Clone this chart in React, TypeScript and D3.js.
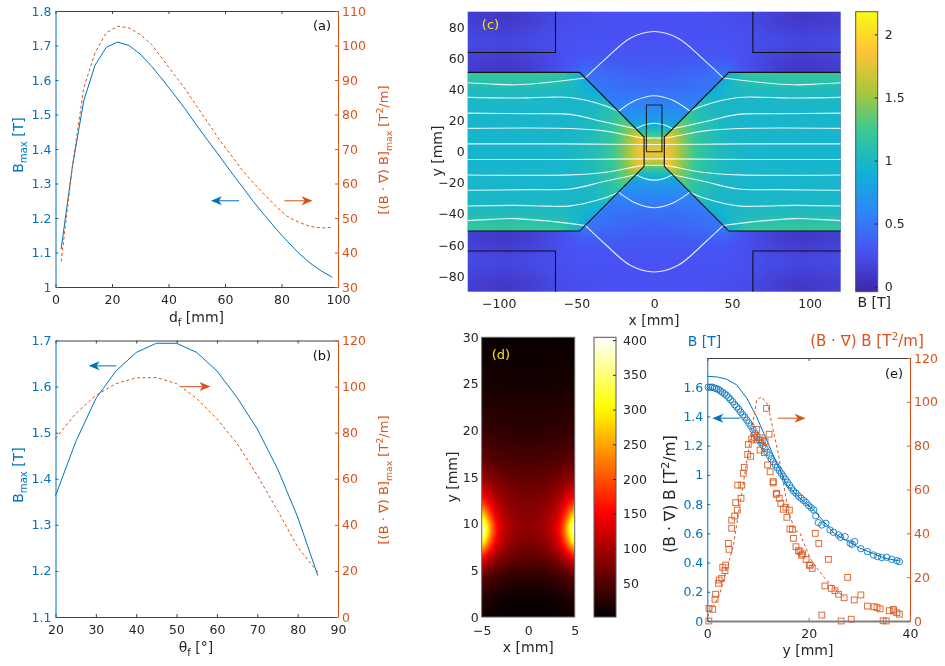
import * as d3 from 'd3';
import { useEffect, useRef } from 'react';

const BLUE = '#0072BD';
const ORANGE = '#D95319';
const DARK = '#262626';
const FONT = '"DejaVu Sans", sans-serif';

// (a) maxima against pole distance
const dfValues = [2, 6, 10, 14, 18, 22, 26, 30, 34, 38, 42, 46, 50, 54, 58, 62, 66, 70, 74, 78, 82, 86, 90, 94, 98];
const dfBmax = [1.11, 1.35, 1.54, 1.643, 1.695, 1.71, 1.7, 1.675, 1.64, 1.6, 1.558, 1.515, 1.468, 1.424, 1.38, 1.335, 1.292, 1.248, 1.208, 1.169, 1.133, 1.099, 1.07, 1.047, 1.028];
const dfGrad = [37.4, 65, 87.7, 97.9, 103.7, 105.6, 105.1, 103.2, 100.3, 96, 91.6, 87.3, 82.4, 77.6, 72.7, 68.4, 64, 60.2, 56.8, 53.4, 50.5, 48.8, 47.6, 47.1, 47.3];

// (b) maxima against pole angle
const thetaValues = [20, 25, 30, 35, 40, 45, 50, 55, 60, 65, 70, 75, 80, 85];
const thetaBmax = [1.363, 1.48, 1.574, 1.634, 1.674, 1.694, 1.694, 1.674, 1.634, 1.576, 1.508, 1.422, 1.317, 1.19];
const thetaGrad = [77.4, 88.3, 96.2, 101.3, 103.8, 103.9, 101.3, 94.8, 86, 75.3, 61.5, 46.3, 30.4, 19.5];

// (c) field outline, data in mm
const poleOutline: [number, number][] = [[-120, 51], [-48, 51], [-6.5, 9.4], [-6.5, -9.4], [-48, -51], [-120, -51]];
const yokeCorner: [number, number][] = [[-120, 63.8], [-63.5, 63.8], [-63.5, 90]];
const sampleBox: [number, number][] = [[-5, 0], [-5, 30], [5, 30], [5, 0], [-5, 0]];

// field lines as left-upper halves, the rest is mirrored
const crossingLines: [number, number][][] = [
  [[-120, 5], [-60, 5], [-30, 4.8], [0, 4.6]],
  [[-120, 15], [-54, 14.9], [-32.5, 13.4], [-6.5, 8.8], [0, 8.8]],
  [[-11.8, 14.8], [-6, 17.3], [0, 18.3]],
  [[-23, 26], [-12, 33], [0, 36]],
  [[-44.4, 47.4], [-32, 59], [-15.4, 73], [0, 77.3]],
];
const poleLines: [number, number][][] = [
  [[-120, 24.8], [-80, 24.4], [-54, 24], [-32.5, 19.2], [-11.8, 14.8]],
  [[-120, 34.9], [-90, 34.5], [-69, 35], [-54, 34.8], [-32.5, 29.9], [-23, 26]],
  [[-120, 44.3], [-105, 43.5], [-90, 43], [-69, 44.5], [-44.4, 47.4]],
];

// B in the pole pieces, |x| columns and |y| rows
const ironX = [0, 6, 10, 15, 20, 25, 30, 40, 50, 60, 80, 120];
const ironY = [0, 10, 20, 30, 40, 45, 50];
const ironB = [
  [1.85, 1.85, 1.8, 1.6, 1.42, 1.28, 1.18, 1.06, 1.0, 0.97, 0.95, 0.95],
  [1.85, 1.85, 1.78, 1.55, 1.38, 1.25, 1.15, 1.05, 0.99, 0.97, 0.96, 0.96],
  [1.3, 1.3, 1.3, 1.3, 1.3, 1.2, 1.12, 1.02, 0.98, 0.97, 0.97, 0.97],
  [1.1, 1.1, 1.1, 1.1, 1.1, 1.1, 1.08, 1.0, 0.98, 0.98, 0.98, 0.98],
  [0.85, 0.85, 0.85, 0.85, 0.85, 0.85, 0.85, 0.9, 0.98, 1.02, 1.04, 1.04],
  [0.75, 0.75, 0.75, 0.75, 0.75, 0.75, 0.75, 0.75, 1.0, 1.1, 1.13, 1.13],
  [0.7, 0.7, 0.7, 0.7, 0.7, 0.7, 0.7, 0.7, 0.95, 1.2, 1.2, 1.2],
];

// B in the air gap and yoke
const airX = [0, 6, 12, 20, 30, 45, 60, 80, 95, 120];
const airY = [0, 5, 8, 10, 12, 15, 20, 30, 40, 50, 55, 62, 70, 80, 87, 90];
const airB = [
  [1.75, 1.8, 1.7, 1.5, 1.2, 0.9, 0.6, 0.3, 0.2, 0.2],
  [1.7, 1.75, 1.6, 1.4, 1.15, 0.9, 0.6, 0.3, 0.2, 0.2],
  [1.5, 1.55, 1.4, 1.2, 1.0, 0.8, 0.6, 0.3, 0.2, 0.2],
  [1.3, 1.32, 1.25, 1.0, 0.8, 0.7, 0.5, 0.3, 0.2, 0.2],
  [1.15, 1.15, 1.1, 0.95, 0.8, 0.7, 0.5, 0.3, 0.2, 0.2],
  [0.98, 0.98, 0.95, 0.85, 0.75, 0.65, 0.5, 0.3, 0.2, 0.2],
  [0.75, 0.75, 0.75, 0.72, 0.68, 0.6, 0.45, 0.3, 0.2, 0.2],
  [0.58, 0.58, 0.58, 0.58, 0.55, 0.5, 0.4, 0.28, 0.2, 0.2],
  [0.45, 0.45, 0.45, 0.45, 0.5, 0.5, 0.35, 0.25, 0.18, 0.18],
  [0.37, 0.37, 0.38, 0.4, 0.42, 0.5, 0.25, 0.15, 0.1, 0.15],
  [0.33, 0.33, 0.33, 0.35, 0.37, 0.38, 0.25, 0.13, 0.08, 0.13],
  [0.3, 0.3, 0.3, 0.3, 0.3, 0.3, 0.25, 0.17, 0.13, 0.17],
  [0.28, 0.28, 0.28, 0.28, 0.28, 0.28, 0.26, 0.22, 0.2, 0.22],
  [0.27, 0.27, 0.27, 0.27, 0.27, 0.26, 0.25, 0.17, 0.13, 0.17],
  [0.27, 0.27, 0.27, 0.27, 0.26, 0.25, 0.22, 0.13, 0.08, 0.13],
  [0.27, 0.27, 0.27, 0.27, 0.26, 0.25, 0.23, 0.15, 0.1, 0.15],
];

// (d) gradient map, |x| columns and y rows
const gradX = [0, 1, 2, 3, 3.5, 4, 4.5, 5];
const gradY = [0, 2, 4, 5, 6, 7, 8, 9, 9.5, 10, 11, 12, 13, 15, 17, 20, 25, 30];
const gradMap = [
  [3, 3, 4, 6, 7, 9, 11, 14],
  [8, 9, 10, 13, 15, 18, 21, 25],
  [25, 26, 28, 33, 37, 42, 48, 55],
  [38, 39, 42, 50, 56, 64, 74, 85],
  [52, 54, 59, 72, 83, 98, 115, 135],
  [66, 68, 76, 96, 114, 140, 175, 215],
  [76, 80, 90, 118, 145, 190, 255, 320],
  [82, 87, 99, 130, 165, 225, 310, 395],
  [84, 88, 101, 132, 168, 228, 320, 400],
  [84, 88, 100, 130, 163, 218, 300, 375],
  [82, 85, 95, 118, 142, 180, 235, 290],
  [78, 80, 88, 105, 120, 145, 175, 205],
  [72, 74, 80, 92, 103, 118, 135, 152],
  [58, 59, 62, 68, 72, 78, 84, 90],
  [44, 44, 46, 48, 50, 53, 56, 58],
  [28, 28, 29, 30, 31, 32, 33, 34],
  [14, 14, 14, 15, 15, 15, 16, 16],
  [7, 7, 7, 8, 8, 8, 8, 8],
];

// (e) simulated curves and measured points
const simY = [0, 2, 3.8, 5.8, 7.8, 9.7, 11.7, 13.7, 15.7, 18, 21, 25, 30, 35, 38];
const simB = [1.675, 1.67, 1.655, 1.616, 1.525, 1.4, 1.24, 1.08, 0.93, 0.85, 0.76, 0.6, 0.5, 0.43, 0.41];
const simGradY = [0, 1.2, 2.5, 5.1, 6.8, 8.96, 9.75, 10.7, 12, 12.7, 14, 16, 17.3, 18.3, 20.3, 21.9, 23.2, 25, 27];
const simGrad = [2, 6.5, 12.6, 33.9, 58.3, 90.2, 100.8, 102.3, 98.5, 90.2, 76.5, 49.9, 41.5, 40, 28.6, 23.3, 19.5, 15, 11];
const measuredB: [number, number][] = [
  [0.2, 1.6], [0.6, 1.6], [1, 1.6], [1.4, 1.595], [1.8, 1.59], [2.2, 1.585], [2.6, 1.575], [3, 1.565], [3.4, 1.555], [3.8, 1.545],
  [4.2, 1.53], [4.6, 1.515], [5, 1.5], [5.4, 1.48], [5.8, 1.465], [6.2, 1.45], [6.6, 1.43], [7, 1.41], [7.4, 1.395], [7.8, 1.375],
  [8.2, 1.355], [8.6, 1.335], [9, 1.31], [9.4, 1.285], [9.8, 1.265], [10.2, 1.24], [10.6, 1.22], [11, 1.2], [11.4, 1.18], [11.8, 1.155],
  [12.2, 1.135], [12.6, 1.11], [13, 1.09], [13.4, 1.07], [13.8, 1.05], [14.2, 1.03], [14.6, 1.01], [15, 0.99], [15.4, 0.97], [15.8, 0.95],
  [16.2, 0.93], [16.6, 0.91], [17, 0.89], [17.5, 0.875], [18, 0.855], [18.5, 0.84], [19, 0.825], [19.5, 0.81], [20, 0.79], [20.5, 0.775],
  [21, 0.76], [21.4, 0.72], [21.9, 0.673], [22.6, 0.657], [23.4, 0.669], [24.2, 0.623], [24.9, 0.607], [25.9, 0.589], [26.3, 0.573], [27.2, 0.577],
  [28.2, 0.532], [28.6, 0.525], [29.1, 0.543], [30.3, 0.495], [31.6, 0.475], [32.8, 0.452], [33.6, 0.441], [34.4, 0.434], [35.4, 0.436], [36.4, 0.422],
  [37.4, 0.413], [37.9, 0.406],
];
const measuredGrad: [number, number][] = [
  [0.3, 0], [0.34, 5.8], [1.06, 5.3], [1.65, 12.2], [1.52, 9.9], [2.2, 17.2], [2.37, 18.7], [2.84, 19.5], [3.04, 24.5], [3.63, 25.5],
  [3.49, 23], [4.28, 32.7], [4.15, 35.4], [4.81, 42.3], [4.81, 46], [5.4, 47.9], [5.92, 50.6], [5.6, 54], [6.65, 56], [6, 62],
  [6.8, 62], [7.3, 70.1], [7.1, 67.4], [7.97, 76], [8.56, 75.1], [8.1, 80.6], [8.76, 82.9], [9.3, 83.8], [9.75, 87.4], [9.75, 82.6],
  [10.4, 83.6], [10.85, 82.3], [11.4, 81.8], [12.2, 85.2], [11.7, 97], [10.4, 78], [11.25, 76.8], [11.9, 71.2], [12.4, 68.1], [13, 63.6],
  [13, 63], [13.7, 58.3], [13.6, 57.8], [14.2, 56], [14.5, 53.7], [15, 51], [15.5, 51.9], [16.2, 50.6], [15.7, 47.3], [16.3, 42],
  [16.8, 41.8], [17, 37.7], [17.5, 33.9], [18, 32.1], [18.3, 31.6], [18.8, 30.6], [19.5, 28.1], [20.1, 25.5], [18.6, 30], [20.3, 25.5],
  [20.7, 24], [21.3, 40], [22, 35.4], [23.9, 28.1], [23.2, 16], [24.5, 14.9], [25.2, 13.8], [25.9, 12.2], [27, 10.6], [27.7, 19.9],
  [29, 9.6], [30.3, 11.9], [31.6, 6.8], [32.9, 6.5], [33.5, 6.1], [34.1, 5.5], [35.9, 4.7], [36.7, 5.3], [36.8, 4.6], [37.4, 3.8],
  [37.9, 3.1], [22.6, 2.7], [26.4, 0], [28.4, 0.8], [34.7, 0.1], [35.3, 0],
];

// tick labels
const ticksA = { x: [0, 20, 40, 60, 80, 100], left: [1, 1.1, 1.2, 1.3, 1.4, 1.5, 1.6, 1.7, 1.8], right: [30, 40, 50, 60, 70, 80, 90, 100, 110] };
const ticksB = { x: [20, 30, 40, 50, 60, 70, 80, 90], left: [1.1, 1.2, 1.3, 1.4, 1.5, 1.6, 1.7], right: [0, 20, 40, 60, 80, 100, 120] };
const ticksC = { x: [-100, -50, 0, 50, 100], y: [-80, -60, -40, -20, 0, 20, 40, 60, 80], bar: [0, 0.5, 1, 1.5, 2] };
const ticksD = { x: [-5, 0, 5], y: [0, 5, 10, 15, 20, 25, 30], bar: [50, 100, 150, 200, 250, 300, 350, 400] };
const ticksE = { x: [0, 20, 40], left: [0, 0.2, 0.4, 0.6, 0.8, 1, 1.2, 1.4, 1.6], right: [0, 20, 40, 60, 80, 100, 120] };

const parulaStops = ['#3E26A8', '#4852F4', '#2D87F7', '#12B1D6', '#37C897', '#ABC739', '#FEC338', '#F9FB15'];
const hotStops = ['#000000', '#ff0000', '#ffff00', '#ffffff'];

type Box = { left: number; right: number; top: number; bottom: number };
type Part = [string, ('sub' | 'sup')?];
type G = d3.Selection<SVGGElement, unknown, null, undefined>;

const fmt = (d: d3.NumberValue) => String(+(+d).toFixed(2)).replace('-', '\u2212');

function addText(g: G, x: number, y: number, parts: Part[], color: string, size = 14, rotate = false, anchor = 'middle') {
  const text = g
    .append('text')
    .attr('transform', `translate(${x},${y})${rotate ? ' rotate(-90)' : ''}`)
    .attr('text-anchor', anchor)
    .attr('fill', color)
    .attr('font-family', FONT)
    .attr('font-size', size);
  let shift = 0;
  parts.forEach(([s, kind]) => {
    const target = kind === 'sub' ? size * 0.3 : kind === 'sup' ? -size * 0.38 : 0;
    text
      .append('tspan')
      .attr('dy', target - shift)
      .attr('font-size', kind ? size * 0.72 : size)
      .text(s);
    shift = target;
  });
}

function styleAxis(sel: G, color: string, width = 1) {
  sel.attr('font-family', FONT).attr('font-size', 12.5);
  sel.select('.domain').attr('stroke', color).attr('stroke-width', width);
  sel.selectAll('.tick line').attr('stroke', color);
  sel.selectAll('.tick text').attr('fill', color);
}

// two y axes, blue left and orange right
function frame(g: G, box: Box, x: d3.ScaleLinear<number, number>, yl: d3.ScaleLinear<number, number>, yr: d3.ScaleLinear<number, number>, ticks: { x: number[]; left: number[]; right: number[] }, bottomWidth = 1, bottomColor = '#404040') {
  const top = g.append('g').attr('transform', `translate(0,${box.top})`)
    .call(d3.axisTop(x).tickValues(ticks.x).tickSize(-3).tickSizeOuter(0).tickFormat(() => ''));
  styleAxis(top, '#404040');
  const bottom = g.append('g').attr('transform', `translate(0,${box.bottom})`)
    .call(d3.axisBottom(x).tickValues(ticks.x).tickSize(-3).tickSizeOuter(0).tickPadding(8).tickFormat(fmt));
  styleAxis(bottom, bottomColor, bottomWidth);
  bottom.selectAll('.tick text').attr('fill', DARK);
  const left = g.append('g').attr('transform', `translate(${box.left},0)`)
    .call(d3.axisLeft(yl).tickValues(ticks.left).tickSize(-3).tickSizeOuter(0).tickPadding(4).tickFormat(fmt));
  styleAxis(left, BLUE);
  const right = g.append('g').attr('transform', `translate(${box.right},0)`)
    .call(d3.axisRight(yr).tickValues(ticks.right).tickSize(-3).tickSizeOuter(0).tickPadding(4).tickFormat(fmt));
  styleAxis(right, ORANGE);
}

function series(g: G, xs: number[], ys: number[], x: d3.ScaleLinear<number, number>, y: d3.ScaleLinear<number, number>, color: string, dash?: string) {
  const line = d3.line<number>().x((_, i) => x(xs[i])).y((d) => y(d));
  g.append('path')
    .attr('d', line(ys))
    .attr('fill', 'none')
    .attr('stroke', color)
    .attr('stroke-width', 1)
    .attr('stroke-dasharray', dash ?? null);
}

function arrow(g: G, x1: number, x2: number, y: number, color: string) {
  const dir = x2 > x1 ? 1 : -1;
  g.append('line').attr('x1', x1).attr('x2', x2 - dir * 8).attr('y1', y).attr('y2', y)
    .attr('stroke', color).attr('stroke-width', 1.2).attr('opacity', 0.85);
  g.append('path')
    .attr('d', `M${x2},${y}L${x2 - dir * 11},${y - 4.5}L${x2 - dir * 8},${y}L${x2 - dir * 11},${y + 4.5}Z`)
    .attr('fill', color);
}

// coarse table resampled onto a picture; |x| and |y| are looked up so the table is one quadrant
function fieldImage(xs: number[], ys: number[], table: number[][], color: (v: number) => string, xDomain: [number, number], yDomain: [number, number], w: number, h: number, blur: number) {
  const rows = table.map((row) => d3.scaleLinear().domain(xs).range(row).clamp(true));
  const px = d3.scaleLinear().domain([0, w - 1]).range(xDomain);
  const py = d3.scaleLinear().domain([0, h - 1]).range([yDomain[1], yDomain[0]]);
  const values = new Float64Array(w * h);
  for (let i = 0; i < w; i++) {
    const col = rows.map((r) => r(Math.abs(px(i))));
    const scale = d3.scaleLinear().domain(ys).range(col).clamp(true);
    for (let j = 0; j < h; j++) values[j * w + i] = scale(Math.abs(py(j)));
  }
  if (blur > 0) d3.blur2({ data: values, width: w, height: h }, blur);
  const canvas = document.createElement('canvas');
  canvas.width = w;
  canvas.height = h;
  const ctx = canvas.getContext('2d')!;
  const image = ctx.createImageData(w, h);
  values.forEach((v, k) => {
    const c = d3.rgb(color(v));
    image.data[k * 4] = c.r;
    image.data[k * 4 + 1] = c.g;
    image.data[k * 4 + 2] = c.b;
    image.data[k * 4 + 3] = 255;
  });
  ctx.putImageData(image, 0, 0);
  return canvas.toDataURL();
}

function colorbar(g: G, defs: d3.Selection<SVGDefsElement, unknown, null, undefined>, id: string, box: Box, domain: [number, number], color: (v: number) => string, ticks: number[]) {
  const grad = defs.append('linearGradient').attr('id', id).attr('x1', 0).attr('x2', 0).attr('y1', 1).attr('y2', 0);
  d3.range(0, 1.001, 0.02).forEach((t) => {
    grad.append('stop').attr('offset', t).attr('stop-color', color(domain[0] + t * (domain[1] - domain[0])));
  });
  const y = d3.scaleLinear().domain(domain).range([box.bottom, box.top]);
  g.append('rect').attr('x', box.left).attr('y', box.top).attr('width', box.right - box.left).attr('height', box.bottom - box.top)
    .attr('fill', `url(#${id})`).attr('stroke', '#555').attr('stroke-width', 1);
  const axis = g.append('g').attr('transform', `translate(${box.right},0)`)
    .call(d3.axisRight(y).tickValues(ticks).tickSize(-3).tickSizeOuter(0).tickPadding(7).tickFormat(fmt));
  styleAxis(axis, DARK);
  axis.select('.domain').remove();
}

export default function App() {
  const svgRef = useRef<SVGSVGElement>(null);

  useEffect(() => {
    if (!svgRef.current) return;
    const svg = d3.select(svgRef.current);
    svg.selectAll('*').remove();
    const defs = svg.append('defs');
    // the source figure is a soft, resampled raster
    defs.append('filter').attr('id', 'soft')
      .attr('filterUnits', 'userSpaceOnUse')
      .attr('x', 0).attr('y', 0).attr('width', 945).attr('height', 666)
      .attr('color-interpolation-filters', 'sRGB')
      .append('feGaussianBlur').attr('stdDeviation', 0.3);
    const root = svg.append('g').attr('filter', 'url(#soft)') as unknown as G;

    // Panel (a)
    const boxA: Box = { left: 55.5, right: 338, top: 11, bottom: 287 };
    const xA = d3.scaleLinear().domain([0, 100]).range([boxA.left, boxA.right]);
    const yA = d3.scaleLinear().domain([1, 1.8]).range([boxA.bottom, boxA.top]);
    const rA = d3.scaleLinear().domain([30, 110]).range([boxA.bottom, boxA.top]);
    series(root, dfValues, dfBmax, xA, yA, BLUE);
    series(root, dfValues, dfGrad, xA, rA, ORANGE, '3 2.5');
    frame(root, boxA, xA, yA, rA, ticksA);
    arrow(root, xA(65), xA(55), yA(1.25), BLUE);
    arrow(root, xA(81), xA(91), yA(1.25), ORANGE);
    addText(root, 322, 30, [['(a)']], '#111', 13);
    addText(root, 196.5, 322, [['d'], ['f', 'sub'], [' [mm]']], DARK);
    addText(root, 23, 145, [['B'], ['max', 'sub'], [' [T]']], BLUE, 14, true);
    addText(root, 388, 150, [['[(B \u00b7 \u2207) B]'], ['max', 'sub'], [' [T'], ['2', 'sup'], ['/m]']], ORANGE, 13, true);

    // Panel (b)
    const boxB: Box = { left: 55.5, right: 338, top: 340.5, bottom: 617 };
    const xB = d3.scaleLinear().domain([20, 90]).range([boxB.left, boxB.right]);
    const yB = d3.scaleLinear().domain([1.1, 1.7]).range([boxB.bottom, boxB.top]);
    const rB = d3.scaleLinear().domain([0, 120]).range([boxB.bottom, boxB.top]);
    series(root, thetaValues, thetaBmax, xB, yB, BLUE);
    series(root, thetaValues, thetaGrad, xB, rB, ORANGE, '3 2.5');
    frame(root, boxB, xB, yB, rB, ticksB);
    arrow(root, xB(35), xB(28.2), yB(1.645), BLUE);
    arrow(root, xB(51.2), xB(58.4), yB(1.6), ORANGE);
    addText(root, 322, 360, [['(b)']], '#111', 13);
    addText(root, 196, 652, [['\u03b8'], ['f', 'sub'], [' [\u00b0]']], DARK);
    addText(root, 23, 475, [['B'], ['max', 'sub'], [' [T]']], BLUE, 14, true);
    addText(root, 388, 480, [['[(B \u00b7 \u2207) B]'], ['max', 'sub'], [' [T'], ['2', 'sup'], ['/m]']], ORANGE, 13, true);

    // Panel (c)
    const boxC: Box = { left: 467.7, right: 840.7, top: 11.7, bottom: 291.7 };
    const xC = d3.scaleLinear().domain([-120, 120]).range([boxC.left, boxC.right]);
    const yC = d3.scaleLinear().domain([-90, 90]).range([boxC.bottom, boxC.top]);
    const barDomainC: [number, number] = [-0.04, 2.18];
    const parula = d3.scaleLinear<string>()
      .domain(d3.range(parulaStops.length).map((i) => barDomainC[0] + (i / (parulaStops.length - 1)) * (barDomainC[1] - barDomainC[0])))
      .range(parulaStops).clamp(true);
    const w = Math.round(boxC.right - boxC.left);
    const h = Math.round(boxC.bottom - boxC.top);
    const place = (img: d3.Selection<SVGImageElement, unknown, null, undefined>, b: Box) =>
      img.attr('x', b.left).attr('y', b.top).attr('width', b.right - b.left).attr('height', b.bottom - b.top).attr('preserveAspectRatio', 'none');
    place(root.append('image').attr('href', fieldImage(airX, airY, airB, parula, [-120, 120], [-90, 90], w, h, 2)), boxC);

    const toPath = d3.line<[number, number]>().x((d) => xC(d[0])).y((d) => yC(d[1]));
    const rightPole = poleOutline.map(([a, b]) => [-a, b] as [number, number]);
    defs.append('clipPath').attr('id', 'poles').append('path').attr('d', `${toPath(poleOutline)}Z${toPath(rightPole)}Z`);
    place(root.append('image').attr('href', fieldImage(ironX, ironY, ironB, parula, [-120, 120], [-90, 90], w, h, 2)), boxC)
      .attr('clip-path', 'url(#poles)');

    const smooth = d3.line<[number, number]>().x((d) => xC(d[0])).y((d) => yC(d[1])).curve(d3.curveCatmullRom);
    const white = (pts: [number, number][], sy: number) =>
      root.append('path').attr('d', smooth(pts.map(([a, b]) => [a, sy * b] as [number, number])))
        .attr('fill', 'none').attr('stroke', '#fff').attr('stroke-width', 1.1).attr('opacity', 0.88);
    [1, -1].forEach((sy) => {
      crossingLines.forEach((pts) => {
        const full = [...pts, ...pts.slice(0, -1).reverse().map(([a, b]) => [-a, b] as [number, number])];
        white(full, sy);
      });
      poleLines.forEach((pts) => {
        white(pts, sy);
        white(pts.map(([a, b]) => [-a, b] as [number, number]), sy);
      });
    });

    const black = (pts: [number, number][], op = 1) =>
      root.append('path').attr('d', toPath(pts)).attr('fill', 'none').attr('stroke', '#111').attr('stroke-width', 1.1).attr('opacity', op);
    black(poleOutline);
    black(rightPole);
    [[1, 1], [-1, 1], [1, -1], [-1, -1]].forEach(([sx, sy]) => black(yokeCorner.map(([a, b]) => [sx * a, sy * b] as [number, number])));
    black(sampleBox, 0.85);

    const axisCx = root.append('g').attr('transform', `translate(0,${boxC.bottom})`)
      .call(d3.axisBottom(xC).tickValues(ticksC.x).tickSize(0).tickPadding(7).tickFormat(fmt));
    styleAxis(axisCx, DARK);
    axisCx.select('.domain').remove();
    const axisCy = root.append('g').attr('transform', `translate(${boxC.left},0)`)
      .call(d3.axisLeft(yC).tickValues(ticksC.y).tickSize(0).tickPadding(3).tickFormat(fmt));
    styleAxis(axisCy, DARK);
    axisCy.select('.domain').remove();
    addText(root, 490.5, 29, [['(c)']], '#F5E50F', 13);
    addText(root, 654, 325, [['x [mm]']], DARK);
    addText(root, 442, 151, [['y [mm]']], DARK, 14, true);
    colorbar(root, defs, 'parula', { left: 855.7, right: 877.7, top: 11.7, bottom: 291.7 }, barDomainC, parula, ticksC.bar);
    addText(root, 857.5, 307, [['B [T]']], DARK, 14, false, 'start');

    // Panel (d)
    const boxD: Box = { left: 481.7, right: 574.7, top: 337.3, bottom: 617 };
    const xD = d3.scaleLinear().domain([-5, 5]).range([boxD.left, boxD.right]);
    const yD = d3.scaleLinear().domain([0, 30]).range([boxD.bottom, boxD.top]);
    const barDomainD: [number, number] = [1.5, 404];
    const hot = d3.scaleLinear<string>()
      .domain([0, 0.375, 0.75, 1].map((t) => barDomainD[0] + t * (barDomainD[1] - barDomainD[0])))
      .range(hotStops).clamp(true);
    place(root.append('image').attr('href', fieldImage(gradX, gradY, gradMap, hot, [-5, 5], [0, 30], 93 * 2, 280 * 2, 2)), boxD);
    root.append('rect').attr('x', boxD.left).attr('y', boxD.top).attr('width', boxD.right - boxD.left).attr('height', boxD.bottom - boxD.top)
      .attr('fill', 'none').attr('stroke', '#666').attr('stroke-width', 1);
    const axisDx = root.append('g').attr('transform', `translate(0,${boxD.bottom})`)
      .call(d3.axisBottom(xD).tickValues(ticksD.x).tickSize(0).tickPadding(9).tickFormat(fmt));
    styleAxis(axisDx, DARK);
    axisDx.select('.domain').remove();
    const axisDy = root.append('g').attr('transform', `translate(${boxD.left},0)`)
      .call(d3.axisLeft(yD).tickValues(ticksD.y).tickSize(0).tickPadding(3).tickFormat(fmt));
    styleAxis(axisDy, DARK);
    axisDy.select('.domain').remove();
    addText(root, 501, 359, [['(d)']], '#F5E50F', 13);
    addText(root, 528.3, 652, [['x [mm]']], DARK);
    addText(root, 457, 477, [['y [mm]']], DARK, 14, true);
    colorbar(root, defs, 'hot', { left: 594, right: 616, top: 337.3, bottom: 617 }, barDomainD, hot, ticksD.bar);

    // Panel (e)
    const boxE: Box = { left: 707.3, right: 910, top: 358, bottom: 621 };
    const xE = d3.scaleLinear().domain([0, 40]).range([boxE.left, boxE.right]);
    const yE = d3.scaleLinear().domain([0, 1.8]).range([boxE.bottom, boxE.top]);
    const rE = d3.scaleLinear().domain([0, 120]).range([boxE.bottom, boxE.top]);
    series(root, simY, simB, xE, yE, BLUE);
    series(root, simGradY, simGrad, xE, rE, ORANGE, '3 2.5');
    root.append('g').selectAll('circle').data(measuredB).join('circle')
      .attr('cx', (d) => xE(d[0])).attr('cy', (d) => yE(d[1])).attr('r', 3.2)
      .attr('fill', 'none').attr('stroke', BLUE).attr('stroke-width', 1).attr('opacity', 0.85);
    root.append('g').selectAll('rect').data(measuredGrad).join('rect')
      .attr('x', (d) => xE(d[0]) - 2.9).attr('y', (d) => rE(d[1]) - 2.9).attr('width', 5.8).attr('height', 5.8)
      .attr('fill', 'none').attr('stroke', ORANGE).attr('stroke-width', 1).attr('opacity', 0.85);
    frame(root, boxE, xE, yE, rE, ticksE, 2, '#808080');
    arrow(root, xE(6.4), xE(1), yE(1.388), BLUE);
    arrow(root, xE(13.9), xE(19.4), yE(1.388), ORANGE);
    addText(root, 894, 378, [['(e)']], '#111', 13);
    addText(root, 808, 655, [['y [mm]']], DARK);
    addText(root, 704.5, 346, [['B [T]']], BLUE);
    addText(root, 867, 346, [['(B \u00b7 \u2207) B [T'], ['2', 'sup'], ['/m]']], ORANGE, 15);
    addText(root, 675, 494, [['(B \u00b7 \u2207) B [T'], ['2', 'sup'], ['/m]']], DARK, 15.5, true);
  }, []);

  return (
    <svg
      ref={svgRef}
      width={945}
      height={666}
      viewBox="0 0 945 666"
      style={{ position: 'absolute', left: 0, top: 0, background: '#fff' }}
    />
  );
}
